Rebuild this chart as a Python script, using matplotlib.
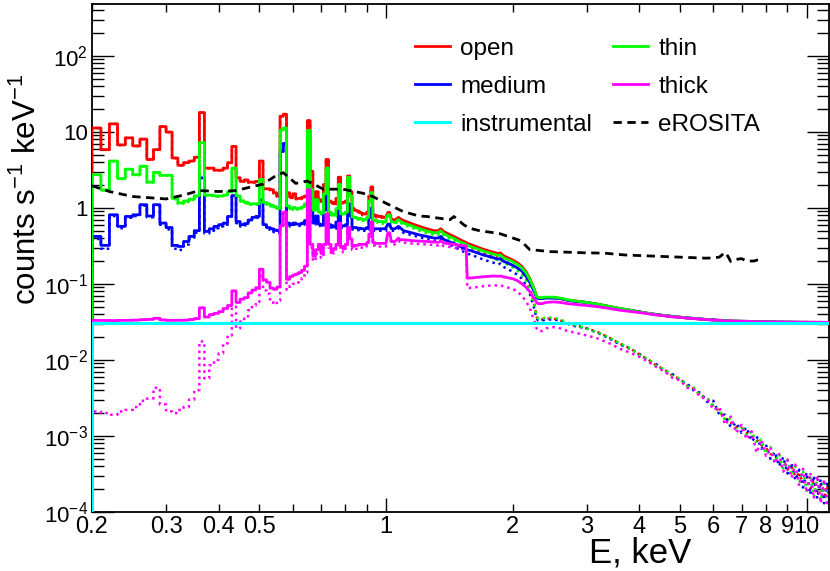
import numpy as np
import matplotlib
matplotlib.use('Agg')
import matplotlib.pyplot as plt
from matplotlib.ticker import FixedLocator, FuncFormatter, LogLocator, NullFormatter

plt.rcParams['font.family'] = ['Liberation Sans', 'DejaVu Sans']
plt.rcParams['mathtext.fontset'] = 'custom'
plt.rcParams['mathtext.rm'] = 'Liberation Sans'
plt.rcParams['mathtext.it'] = 'Liberation Sans:italic'
plt.rcParams['mathtext.bf'] = 'Liberation Sans:bold'

# ---- data ----------------------------------------------------------------
# 0.01 keV bins between 0.2 and 1 keV (sky spectra, counts/s/keV)
edges_lo = [0.20, 0.21, 0.22, 0.23, 0.24, 0.25, 0.26, 0.27, 0.28, 0.29,
            0.30, 0.31, 0.32, 0.33, 0.34, 0.35, 0.36, 0.37, 0.38, 0.39,
            0.40, 0.41, 0.42, 0.43, 0.44, 0.45, 0.46, 0.47, 0.48, 0.49,
            0.50, 0.51, 0.52, 0.53, 0.54, 0.55, 0.56, 0.57, 0.58, 0.59,
            0.60, 0.61, 0.62, 0.63, 0.64, 0.65, 0.66, 0.67, 0.68, 0.69,
            0.70, 0.71, 0.72, 0.73, 0.74, 0.75, 0.76, 0.77, 0.78, 0.79,
            0.80, 0.81, 0.82, 0.83, 0.84, 0.85, 0.86, 0.87, 0.88, 0.89,
            0.90, 0.91, 0.92, 0.93, 0.94, 0.95, 0.96, 0.97, 0.98, 0.99, 1.00]

open_lo = [11.2, 5.8, 12.7, 6.7, 8.3, 6.5, 8.0, 4.3, 5.8, 11.7,
           9.9, 4.5, 3.6, 3.9, 4.1, 4.6, 17.9, 3.3, 3.3, 3.1,
           3.1, 3.3, 3.9, 6.4, 2.46, 2.2, 2.3, 2.15, 2.15, 2.2,
           4.1, 1.75, 1.75, 1.7, 1.55, 1.4, 16.0, 17.0, 1.55, 1.35,
           1.5, 1.3, 1.3, 1.35, 1.4, 14.0, 3.0, 1.35, 1.6, 1.25,
           1.2, 2.0, 4.3, 1.2, 1.15, 1.1, 1.3, 2.5, 1.15, 1.15,
           1.2, 2.6, 1.6, 0.95, 0.9, 0.88, 0.85, 0.82, 0.8, 0.8,
           0.85, 1.4, 1.85, 0.78, 0.76, 0.75, 0.74, 0.74, 0.72, 0.72]

thin_lo = [2.7, 1.69, 4.1, 2.4, 3.2, 2.7, 3.5, 2.15, 2.9, 2.65,
           2.65, 1.3, 1.13, 1.2, 1.27, 1.41, 7.2, 1.44, 1.44, 1.4,
           1.4, 1.44, 1.6, 3.3, 1.41, 1.21, 1.15, 1.1, 1.1, 1.1,
           2.33, 1.15, 1.1, 1.05, 1.0, 0.95, 10.5, 11.2, 1.03, 0.94,
           0.98, 0.95, 0.95, 1.0, 1.1, 10.4, 1.72, 0.9, 1.25, 0.85,
           0.82, 1.5, 3.3, 0.85, 0.8, 0.77, 0.95, 2.0, 0.8, 0.8,
           0.85, 2.5, 1.4, 0.73, 0.72, 0.7, 0.7, 0.68, 0.67, 0.67,
           0.72, 1.2, 1.56, 0.66, 0.65, 0.64, 0.63, 0.63, 0.62, 0.62]

medium_lo = [0.39, 0.29, 0.78, 0.54, 0.74, 0.78, 1.07, 0.75, 1.07, 0.6,
             0.52, 0.29, 0.28, 0.33, 0.39, 0.47, 2.45, 0.46, 0.5, 0.54,
             0.57, 0.6, 0.74, 1.42, 0.63, 0.57, 0.59, 0.66, 0.72, 0.74,
             1.25, 0.57, 0.52, 0.5, 0.48, 0.47, 5.5, 7.0, 0.6, 0.57,
             0.6, 0.58, 0.58, 0.6, 0.65, 2.2, 0.9, 0.6, 0.75, 0.58,
             0.56, 0.9, 1.5, 0.57, 0.55, 0.53, 0.62, 1.1, 0.55, 0.55,
             0.57, 1.1, 0.75, 0.52, 0.52, 0.51, 0.51, 0.5, 0.5, 0.5,
             0.52, 0.75, 0.95, 0.5, 0.5, 0.5, 0.5, 0.5, 0.5, 0.5]

thick_lo = [0.0021, 0.0020, 0.0019, 0.0021, 0.0022, 0.0024, 0.0029, 0.0031, 0.0043, 0.0026,
            0.0021, 0.0020, 0.0022, 0.0024, 0.0030, 0.0040, 0.0175, 0.0057, 0.0085, 0.0100,
            0.0122, 0.0165, 0.0210, 0.050, 0.026, 0.032, 0.035, 0.045, 0.052, 0.058,
            0.125, 0.082, 0.074, 0.057, 0.054, 0.060, 0.55, 0.85, 0.084, 0.094,
            0.100, 0.104, 0.110, 0.120, 0.140, 1.7, 0.30, 0.20, 0.25, 0.30,
            0.22, 0.30, 0.80, 0.30, 0.24, 0.26, 0.30, 0.60, 0.28, 0.26,
            0.30, 0.52, 0.36, 0.28, 0.29, 0.29, 0.30, 0.30, 0.30, 0.30,
            0.32, 0.42, 0.62, 0.32, 0.31, 0.31, 0.31, 0.31, 0.31, 0.31]

# 1 - 3.8 keV
e_mid = [1.00, 1.01, 1.02, 1.03, 1.05, 1.07, 1.08, 1.10, 1.15, 1.20,
         1.25, 1.30, 1.33, 1.35, 1.37, 1.40, 1.45, 1.50, 1.55, 1.56,
         1.60, 1.70, 1.80, 1.85, 1.87, 1.90, 2.00, 2.05, 2.10, 2.15,
         2.20, 2.25, 2.28, 2.30, 2.35, 2.40, 2.50, 2.60, 2.70, 2.80,
         3.00, 3.20, 3.40, 3.60, 3.80]

open_mid = [0.74, 0.84, 0.84, 0.68, 0.66, 0.72, 0.69, 0.65, 0.59, 0.54,
            0.50, 0.47, 0.47, 0.50, 0.46, 0.43, 0.39, 0.35, 0.32, 0.31,
            0.295, 0.255, 0.23, 0.22, 0.225, 0.205, 0.175, 0.16, 0.14, 0.115,
            0.085, 0.055, 0.037, 0.034, 0.034, 0.035, 0.035, 0.033, 0.030, 0.029,
            0.026, 0.023, 0.0195, 0.0163, 0.0143]

thin_mid = [0.69, 0.78, 0.78, 0.63, 0.61, 0.67, 0.64, 0.60, 0.55, 0.50,
            0.465, 0.44, 0.44, 0.47, 0.43, 0.40, 0.365, 0.325, 0.30, 0.29,
            0.275, 0.24, 0.215, 0.205, 0.21, 0.19, 0.165, 0.15, 0.132, 0.11,
            0.082, 0.054, 0.037, 0.035, 0.035, 0.036, 0.036, 0.034, 0.031, 0.029,
            0.026, 0.023, 0.0195, 0.0165, 0.0143]

medium_mid = [0.52, 0.58, 0.58, 0.50, 0.50, 0.54, 0.52, 0.47, 0.44, 0.41,
              0.39, 0.37, 0.37, 0.39, 0.355, 0.335, 0.31, 0.28, 0.255, 0.25,
              0.24, 0.21, 0.19, 0.18, 0.185, 0.168, 0.145, 0.132, 0.118, 0.096,
              0.072, 0.048, 0.035, 0.033, 0.033, 0.034, 0.034, 0.033, 0.030, 0.028,
              0.026, 0.0225, 0.019, 0.016, 0.014]

thick_mid = [0.32, 0.44, 0.44, 0.33, 0.33, 0.37, 0.35, 0.35, 0.34, 0.335,
             0.33, 0.325, 0.32, 0.335, 0.315, 0.31, 0.30, 0.29, 0.285, 0.088,
             0.089, 0.093, 0.096, 0.095, 0.096, 0.093, 0.086, 0.08, 0.07, 0.06,
             0.047, 0.033, 0.026, 0.024, 0.024, 0.026, 0.027, 0.026, 0.024, 0.023,
             0.021, 0.019, 0.0165, 0.014, 0.0125]

# 4 - 12 keV (low statistics tail)
e_tail = [4.0, 4.2, 4.4, 4.6, 4.8, 5.0, 5.2, 5.4, 5.6, 5.8,
          6.0, 6.2, 6.4, 6.6, 6.8, 7.0, 7.2, 7.4, 7.6, 7.8,
          8.0, 8.2, 8.4, 8.6, 8.8, 9.0, 9.2, 9.4, 9.6, 9.8,
          10.0, 10.2, 10.4, 10.6, 10.8, 11.0, 11.2, 11.4, 11.6, 11.8, 12.0]

open_tail = [0.0118, 0.0101, 0.0084, 0.0074, 0.0062, 0.0056, 0.0046, 0.0042, 0.0034, 0.0031,
             0.0025, 0.0021, 0.0017, 0.0015, 0.0013, 0.00128, 0.0011, 0.0010, 0.0009, 0.00076,
             0.0007, 0.00058, 0.00055, 0.00045, 0.00046, 0.00036, 0.0004, 0.00029, 0.00032, 0.00024,
             0.00029, 0.0002, 0.00026, 0.00017, 0.00023, 0.00015, 0.00021, 0.00014, 0.00019, 0.00013, 0.00017]

thin_tail = [0.0116, 0.0102, 0.0083, 0.0075, 0.0061, 0.0057, 0.0045, 0.0043, 0.0033, 0.0032,
             0.0024, 0.0022, 0.0016, 0.0017, 0.0012, 0.0014, 0.001, 0.00115, 0.0008, 0.0009,
             0.00058, 0.00072, 0.00045, 0.00058, 0.00036, 0.00049, 0.0003, 0.0004, 0.00024, 0.00035,
             0.00019, 0.00031, 0.00016, 0.00028, 0.00014, 0.00026, 0.00012, 0.00023, 0.00011, 0.00021, 0.0001]

medium_tail = [0.012, 0.0098, 0.0087, 0.0071, 0.0065, 0.0053, 0.0049, 0.0039, 0.0037, 0.0028,
               0.0029, 0.0019, 0.0019, 0.0013, 0.0015, 0.0011, 0.0013, 0.00085, 0.001, 0.00068,
               0.00077, 0.0005, 0.00062, 0.0004, 0.00053, 0.00032, 0.00044, 0.00026, 0.00036, 0.00021,
               0.00033, 0.00017, 0.0003, 0.00015, 0.00027, 0.00013, 0.00025, 0.00012, 0.00022, 0.00011, 0.00019]

thick_tail = [0.011, 0.0095, 0.008, 0.007, 0.0058, 0.0054, 0.0043, 0.0041, 0.0032, 0.0031,
              0.0022, 0.0024, 0.0014, 0.0018, 0.0011, 0.0014, 0.0009, 0.00115, 0.0006, 0.0009,
              0.00055, 0.00072, 0.00043, 0.00058, 0.00034, 0.00049, 0.00028, 0.00042, 0.00022, 0.00037,
              0.00018, 0.00033, 0.00015, 0.0003, 0.00013, 0.00027, 0.00012, 0.00024, 0.00011, 0.00022, 0.00012]

# instrumental background level
instr_e = [0.20, 12.0]
instr_level = 0.031

# eROSITA reference curve
ero_e = [0.20, 0.22, 0.25, 0.30, 0.33, 0.36, 0.40, 0.44, 0.48, 0.51,
         0.55, 0.57, 0.61, 0.65, 0.71, 0.79, 0.88, 0.93, 1.00, 1.10,
         1.20, 1.25, 1.34, 1.42, 1.45, 1.53, 1.58, 1.67, 1.86, 2.09,
         2.20, 2.24, 2.45, 3.00, 3.30, 3.70, 4.50, 5.76, 6.00, 6.20,
         6.40, 6.50, 6.60, 6.80, 7.00, 7.20, 7.50, 7.70]
ero_v = [1.95, 1.64, 1.41, 1.31, 1.47, 1.69, 1.64, 1.69, 1.9, 2.05,
         2.7, 2.9, 2.1, 2.25, 1.76, 1.76, 1.56, 1.41, 1.15, 0.89,
         0.78, 0.77, 0.73, 0.70, 0.77, 0.60, 0.54, 0.50, 0.46, 0.37,
         0.28, 0.28, 0.266, 0.256, 0.254, 0.24, 0.23, 0.218, 0.22, 0.225,
         0.26, 0.23, 0.197, 0.21, 0.215, 0.20, 0.20, 0.21]

FLOOR = 1e-6


def spectrum(lo, mid, tail, add=0.0):
    x = np.concatenate([np.repeat(edges_lo, 2)[:-1], e_mid, e_tail])
    y = np.concatenate([[FLOOR], np.repeat(np.asarray(lo) + add, 2),
                        np.asarray(mid) + add, np.asarray(tail) + add])
    return x, y


series = [
    ('open', 'red', open_lo, open_mid, open_tail),
    ('medium', 'blue', medium_lo, medium_mid, medium_tail),
    ('thin', '#00ff00', thin_lo, thin_mid, thin_tail),
    ('thick', 'magenta', thick_lo, thick_mid, thick_tail),
]

fig = plt.figure(figsize=(8.3, 5.71), dpi=100)
ax = fig.add_axes([92 / 830, 59 / 571, 737 / 830, 508 / 571])

handles = {}
for i, (name, col, lo, mid, tail) in enumerate(series):
    x, y = spectrum(lo, mid, tail)
    ax.plot(x, y, color=col, lw=1.8, ls=(0, (1, 1.6)), zorder=2 + 0.1 * i)
for i, (name, col, lo, mid, tail) in enumerate(series):
    x, y = spectrum(lo, mid, tail, instr_level)
    handles[name], = ax.plot(x, y, color=col, lw=2, zorder=3 + 0.1 * i)

handles['instrumental'], = ax.plot([instr_e[0]] + instr_e, [FLOOR, instr_level, instr_level],
                                   color='cyan', lw=2.2, zorder=4)
handles['eROSITA'], = ax.plot(ero_e, ero_v, color='black', lw=2, dashes=(3, 2), zorder=5)

ax.set_xscale('log')
ax.set_yscale('log')
ax.set_xlim(0.2, 11.3)
ax.set_ylim(1e-4, 480)

# x ticks
ax.xaxis.set_major_locator(FixedLocator([1, 10]))
ax.xaxis.set_minor_locator(FixedLocator([0.2, 0.3, 0.4, 0.5, 0.6, 0.7, 0.8, 0.9,
                                         2, 3, 4, 5, 6, 7, 8, 9]))
ax.xaxis.set_major_formatter(FuncFormatter(lambda v, p: '%g' % v))
labelled = {0.2, 0.3, 0.4, 0.5, 2, 3, 4, 5, 6, 7, 8, 9}
ax.xaxis.set_minor_formatter(FuncFormatter(
    lambda v, p: ('%g' % v) if round(v, 2) in labelled else ''))


def yfmt(v, p):
    e = int(round(np.log10(v)))
    if e == 0:
        return '1'
    if e == 1:
        return '10'
    return r'$10^{%d}$' % e


ax.yaxis.set_major_locator(LogLocator(base=10, numticks=20))
ax.yaxis.set_minor_locator(LogLocator(base=10, subs=np.arange(2, 10), numticks=20))
ax.yaxis.set_major_formatter(FuncFormatter(yfmt))
ax.yaxis.set_minor_formatter(NullFormatter())

ax.tick_params(which='both', direction='in', top=True, right=True, width=1,
               colors='black')
ax.tick_params(axis='x', which='both', labelsize=17, pad=3)
ax.tick_params(axis='x', which='major', length=10)
ax.tick_params(axis='x', which='minor', length=6)
ax.tick_params(axis='y', which='both', labelsize=16, pad=3)
ax.tick_params(axis='y', which='major', length=16)
ax.tick_params(axis='y', which='minor', length=8.5)
for s in ax.spines.values():
    s.set_linewidth(1.3)

ax.set_xlabel('E, keV', fontsize=25, va='center')
ax.xaxis.set_label_coords(0.744, -0.08)
ax.set_ylabel(r'counts s$^{-1}$ keV$^{-1}$', fontsize=22.5)
ax.yaxis.set_label_coords(-0.066, 0.634)

order = ['open', 'medium', 'instrumental', 'thin', 'thick', 'eROSITA']
ax.legend([handles[k] for k in order], order, ncol=2, loc='upper left',
          bbox_to_anchor=(0.438, 0.934), frameon=False, fontsize=17.5,
          handlelength=1.45, handletextpad=0.42, columnspacing=0.85,
          borderpad=0, borderaxespad=0, labelspacing=0.66)

fig.savefig('out.png', dpi=100)
